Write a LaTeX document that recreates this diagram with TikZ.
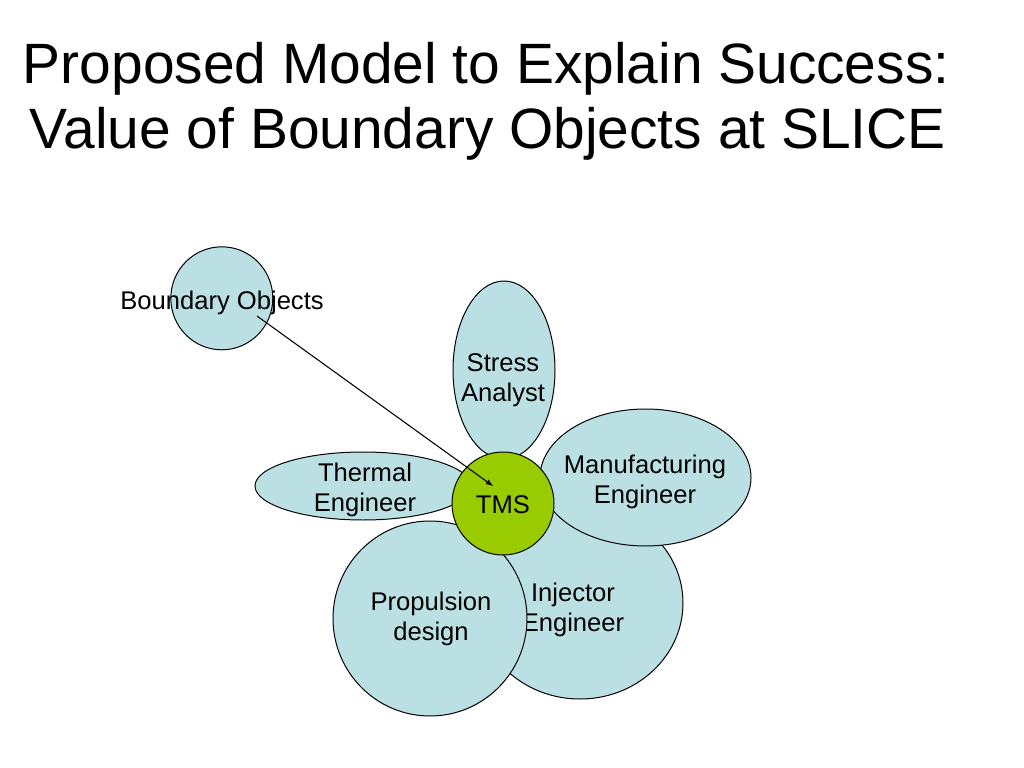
\documentclass[tikz,border=0pt]{standalone}
\usepackage{fontspec}
\setmainfont{Liberation Sans}
\usetikzlibrary{arrows,shapes.geometric}
\definecolor{PetalClr}{RGB}{187,224,227}
\definecolor{HubClr}{RGB}{153,204,0}
\newdimen\pxu \pxu=0.703125pt

\tikzset{
  petal/.style={ellipse,draw=black,fill=PetalClr,line width=.7pt,inner sep=0pt},
  hub/.style={petal,fill=HubClr},
  lbl/.style={font=\fontsize{18}{21}\selectfont,align=center,inner sep=0pt},
  ttl/.style={font=\fontsize{40}{48}\selectfont,anchor=base west,inner sep=0pt}
}

\begin{document}
\begin{tikzpicture}[x=0.703125pt,y=-0.703125pt]
\path[use as bounding box,fill=white] (0,0) rectangle (1024,768);

\node[ttl] (title1) at (22.6,84) {Proposed Model to Explain Success:};
\node[ttl] (title2) at (29.5,149) {Value of Boundary Objects at SLICE};

\node[petal,minimum width=102*\pxu,minimum height=103*\pxu] (bo) at (221.8,298.3) {};
\node[lbl] (bo txt) at (222,302.5) {Boundary Objects};

\node[petal,minimum width=206*\pxu,minimum height=192*\pxu] (injector) at (580,603) {};
\node[lbl] (injector txt) at (573,610) {Injector\\Engineer};

\node[petal,minimum width=194*\pxu,minimum height=195*\pxu] (propulsion) at (430,618.5) {};
\node[lbl] (propulsion txt) at (431,618.5) {Propulsion\\design};

\node[petal,minimum width=211*\pxu,minimum height=137*\pxu] (manuf) at (645.5,477.5) {};
\node[lbl] (manuf txt) at (645,481.5) {Manufacturing\\Engineer};

\node[petal,minimum width=102*\pxu,minimum height=178*\pxu] (stress) at (504,370) {};
\node[lbl] (stress txt) at (503,380) {Stress\\Analyst};

\node[petal,minimum width=216*\pxu,minimum height=68*\pxu] (thermal) at (363,486) {};
\node[lbl] (thermal txt) at (365,490) {Thermal\\Engineer};

\node[hub,minimum width=102*\pxu,minimum height=103*\pxu] (tms) at (503,503.5) {};
\node[lbl] (tms txt) at (503,505) {TMS};

\coordinate (bo tail) at (257,316);
\coordinate (tms tip) at (493,486);
\draw[-latex,line width=.75pt] (bo tail) -- (tms tip);

\end{tikzpicture}
\end{document}
